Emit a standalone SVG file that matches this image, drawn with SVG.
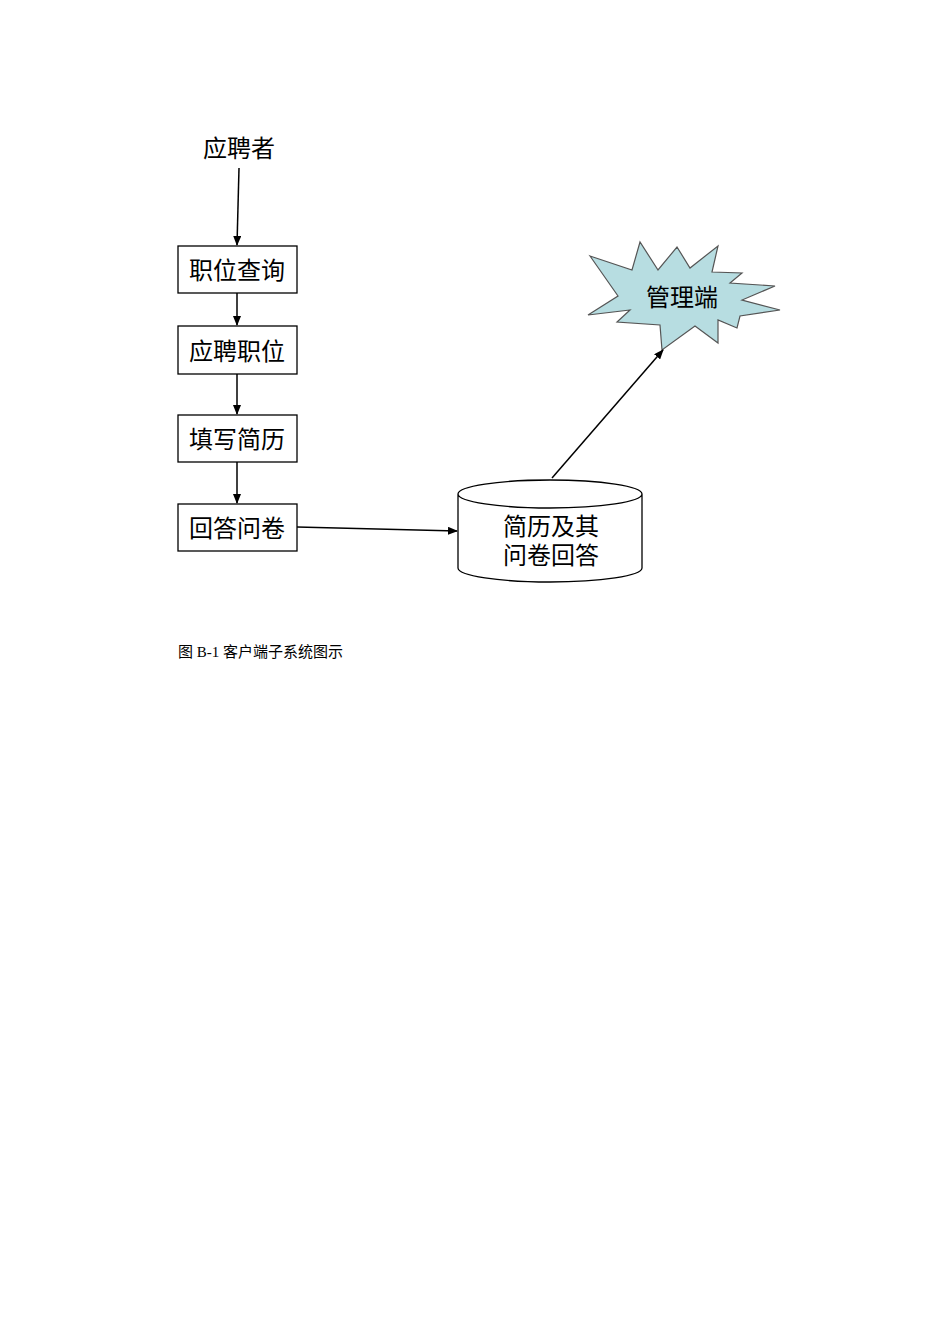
<svg xmlns="http://www.w3.org/2000/svg" width="950" height="1344" viewBox="0 0 950 1344">
<defs><marker id="a" markerWidth="10" markerHeight="8" refX="9" refY="4" orient="auto" markerUnits="userSpaceOnUse"><path d="M0,0 L10,4 L0,8 Z" fill="#000"/></marker></defs>
<style>.b{fill:#fff;stroke:#000;stroke-width:1.3}.t{font-family:"Liberation Sans","Noto Sans CJK SC",sans-serif;font-size:24px;text-anchor:middle}.c{fill:none;stroke:#000;stroke-width:1.5;marker-end:url(#a)}</style>
<rect width="950" height="1344" fill="#fff"/>
<g id="applicant"><text class="t" x="239" y="157">应聘者</text></g>
<g id="n1"><rect class="b" x="178" y="246" width="119" height="47"/><text class="t" x="237" y="279">职位查询</text></g>
<g id="n2"><rect class="b" x="178" y="326" width="119" height="48"/><text class="t" x="237" y="360">应聘职位</text></g>
<g id="n3"><rect class="b" x="178" y="415" width="119" height="47"/><text class="t" x="237" y="448">填写简历</text></g>
<g id="n4"><rect class="b" x="178" y="504" width="119" height="47"/><text class="t" x="237" y="537">回答问卷</text></g>
<g id="db"><path class="b" d="M458,494 L458,568 A92,14 0 0 0 642,568 L642,494 A92,14 0 0 0 458,494 A92,14 0 0 0 642,494"/><text class="t" x="551" y="535">简历及其</text><text class="t" x="551" y="564">问卷回答</text></g>
<g id="mgr"><polygon points="590,256 632,270 640,242 658,270 677,247 690,268 718,246 712,272 742,273 730,283 775,286 742,300 780,310 740,316 737,328 718,320 718,343 695,326 662,350 660,325 617,322 630,310 588,315 618,296" fill="#b7dde1" stroke="#555" stroke-width="1.2"/><text class="t" x="682" y="306">管理端</text></g>
<g id="connectors">
<path class="c" d="M239,168 L237,245"/>
<path class="c" d="M237,293 L237,325"/>
<path class="c" d="M237,374 L237,414"/>
<path class="c" d="M237,462 L237,503"/>
<path class="c" d="M297,527 L457,531"/>
<path class="c" d="M552,478 L663,350"/>
</g>
<g id="caption"><text x="178" y="657" style="font-family:'Liberation Serif','Noto Sans CJK SC',serif;font-size:15px">图 B-1 客户端子系统图示</text></g>
</svg>
